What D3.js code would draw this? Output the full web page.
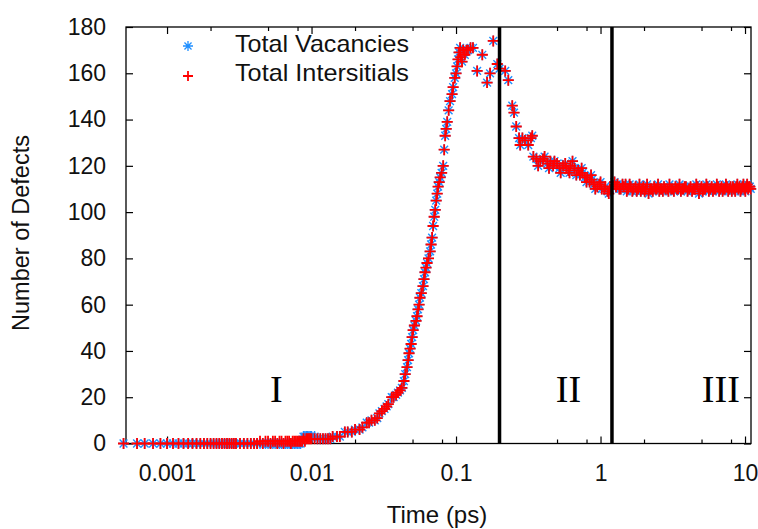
<!DOCTYPE html>
<html>
<head>
<meta charset="utf-8">
<script src="https://cdn.jsdelivr.net/npm/d3@7"></script>
<style>
body { margin: 0; background: #fff; }
text { font-family: "Liberation Sans", Arial, sans-serif; }
</style>
</head>
<body>
<script>
// time (ps) of each sample
var times = [
  0.0005, 0.00062, 0.0007, 0.0008, 0.0009, 0.001, 0.0011, 0.0012, 0.0013, 0.0014, 0.0015, 0.0016, 0.0017, 0.0018, 0.0019, 0.002,
  0.0021, 0.0022, 0.0023, 0.0024, 0.0025, 0.0026, 0.0027, 0.0028, 0.0029, 0.003, 0.0032, 0.0034, 0.0036, 0.0038, 0.004, 0.0042,
  0.0044, 0.0046, 0.0048, 0.005, 0.0052, 0.0054, 0.0056, 0.0058, 0.006, 0.0062, 0.0064, 0.0066, 0.0068, 0.007,
  0.0072, 0.0074, 0.0076, 0.0078, 0.008, 0.0082, 0.0084, 0.0086, 0.0088, 0.009, 0.0092, 0.0094, 0.0096, 0.0098,
  0.01, 0.0105, 0.011, 0.0115, 0.012, 0.0125, 0.013, 0.0135, 0.014, 0.015, 0.0157, 0.017, 0.0178, 0.019, 0.02, 0.0215,
  0.0225, 0.0241, 0.025, 0.026, 0.0274, 0.0285, 0.0295, 0.0307, 0.032, 0.0331, 0.034, 0.0359, 0.037, 0.0385, 0.0396,
  0.041, 0.0422, 0.0436, 0.0445, 0.0458, 0.0466, 0.0473, 0.0481, 0.0489, 0.0497, 0.0505, 0.0515, 0.0529, 0.0537, 0.0546,
  0.0555, 0.0563, 0.0575, 0.0591, 0.06, 0.061, 0.062, 0.063, 0.0645, 0.0662, 0.0672, 0.0683, 0.0694, 0.0706, 0.0718,
  0.0729, 0.0741, 0.0752, 0.0765, 0.0777, 0.0795, 0.0815, 0.0828, 0.0841, 0.0855, 0.0869, 0.0889, 0.0909, 0.0939,
  0.0955, 0.098, 0.1, 0.1017, 0.1033, 0.105, 0.1067, 0.108, 0.11, 0.112, 0.115, 0.118, 0.121, 0.126, 0.131,
  0.14, 0.152, 0.164, 0.172, 0.181, 0.193, 0.2, 0.219, 0.23, 0.245, 0.252, 0.261, 0.273, 0.278, 0.288, 0.3, 0.316, 0.33, 0.337, 0.343,
  0.36, 0.37, 0.383, 0.4, 0.41, 0.428, 0.44, 0.45, 0.47, 0.48, 0.5,
  0.52, 0.53, 0.55, 0.57, 0.58, 0.6, 0.61, 0.62, 0.64, 0.66, 0.68,
  0.7, 0.72, 0.74, 0.75, 0.78, 0.8, 0.81, 0.84, 0.86, 0.87, 0.9,
  0.92, 0.95, 0.98, 1.0, 1.02, 1.06, 1.08, 1.12, 1.14, 1.16, 1.2,
  1.25, 1.28, 1.31, 1.35, 1.38, 1.42, 1.45, 1.49, 1.52, 1.55, 1.59, 1.62,
  1.66, 1.69, 1.75, 1.78, 1.82, 1.86, 1.9, 1.94, 1.98, 2.02, 2.06, 2.1,
  2.15, 2.2, 2.25, 2.3, 2.35, 2.4, 2.45, 2.5, 2.55, 2.6, 2.65, 2.7,
  2.75, 2.82, 2.9, 2.95, 3.0, 3.08, 3.15, 3.22, 3.3, 3.38, 3.45, 3.52,
  3.6, 3.68, 3.75, 3.82, 3.9, 4.0, 4.1, 4.2, 4.3, 4.4, 4.5, 4.6,
  4.7, 4.8, 4.9, 5.0, 5.1, 5.2, 5.3, 5.4, 5.5, 5.62, 5.75, 5.88,
  6.0, 6.12, 6.25, 6.38, 6.5, 6.62, 6.75, 6.88, 7.0, 7.12, 7.25, 7.38,
  7.5, 7.65, 7.8, 7.95, 8.1, 8.25, 8.4, 8.55, 8.7, 8.85, 9.0, 9.15,
  9.3, 9.45, 9.6, 9.75, 9.9, 10.05, 10.2, 10.35, 10.5, 10.65, 10.8, 10.95]

var vacancies = [
  0, 0, 0, 0, 0, 0, 0, 0, 0, 0, 0, 0, 0, 0, 0, 0,
  0, 0, 0, 0, 0, 0, 0, 0, 0, 0, 0, 0, 0, 0, 0, 0,
  0, 0, 0, 0, 0, 0, 0, 0, 0, 0, 0, 0, 0, 0,
  0, 0, 0, 0, 0, 0, 0, 1, 3, 3, 3, 3, 3, 3,
  3, 3, 2, 2, 2, 2, 2, 2, 3, 3, 3, 5, 5, 5, 6, 6,
  7, 9, 9, 10, 10, 11, 13, 14, 15, 16, 17, 20, 20, 21, 22,
  23, 24, 27, 30, 33, 36, 39, 41, 43, 46, 49, 51, 53, 55, 58,
  60, 63, 65, 68, 71, 74, 76, 78, 80, 83, 86, 89, 94, 98, 101,
  105, 108, 111, 113, 115, 117, 120, 127, 133, 136, 139, 144, 148, 151,
  154, 158, 160, 163, 166, 169, 171, 167, 165, 170, 168, 170, 170, 171, 171,
  161, 168, 156, 160, 174, 164, 162, 161, 157, 146, 143, 137, 132, 129, 132, 131, 129, 132, 133, 124,
  123, 120, 122, 123, 124, 121, 119, 122, 120, 122, 121,
  119, 117, 120, 121, 119, 118, 117, 120, 122, 119, 116,
  118, 116, 119, 117, 115, 113, 115, 113, 116, 114, 112,
  110, 111, 112, 113, 110, 110, 111, 109, 108, 110, 111,
  113, 111, 112, 110, 110, 112, 111, 112, 109, 110, 112, 111,
  109, 110, 111, 109, 110, 112, 109, 110, 111, 109, 110, 112,
  108, 110, 110, 109, 111, 110, 110, 112, 109, 110, 110, 109,
  111, 110, 110, 109, 112, 110, 110, 109, 111, 110, 110, 112,
  109, 110, 110, 111, 111, 109, 110, 111, 109, 110, 110, 112,
  111, 108, 110, 111, 109, 110, 110, 112, 111, 109, 110, 111,
  109, 110, 110, 112, 111, 109, 110, 111, 109, 110, 110, 112,
  111, 109, 110, 111, 109, 111, 110, 109, 111, 112, 110, 111,
  109, 110, 111, 112, 110, 109, 111, 112, 110, 111, 111, 110]

var interstitials = [
  0, 0, 0, 0, 0, 0, 0, 0, 0, 0, 0, 0, 0, 0, 0, 0,
  0, 0, 0, 0, 0, 0, 0, 0, 0, 0, 0, 0, 0, 0, 0, 0,
  1, 0, 1, 1, 0, 1, 1, 0, 1, 1, 0, 1, 1, 1,
  0, 1, 1, 1, 1, 1, 1, 1, 2, 1, 2, 2, 2, 2,
  2, 2, 2, 2, 2, 2, 2, 2, 3, 3, 3, 5, 5, 5, 6, 6,
  7, 9, 9, 10, 10, 11, 13, 14, 15, 16, 17, 20, 20, 21, 22,
  23, 24, 27, 30, 33, 36, 39, 41, 43, 46, 49, 51, 53, 55, 58,
  60, 63, 65, 68, 71, 74, 76, 78, 80, 83, 86, 89, 94, 98, 101,
  105, 108, 111, 113, 115, 117, 120, 127, 133, 136, 139, 144, 148, 151,
  154, 158, 160, 163, 166, 169, 171, 167, 165, 170, 168, 170, 170, 171, 171,
  161, 168, 156, 160, 174, 164, 162, 161, 157, 146, 143, 137, 132, 129, 132, 131, 129, 132, 133, 124,
  123, 120, 122, 123, 124, 121, 119, 122, 120, 122, 121,
  119, 117, 120, 121, 119, 118, 117, 120, 122, 119, 116,
  118, 116, 119, 117, 115, 113, 115, 113, 116, 114, 112,
  110, 111, 112, 113, 110, 110, 111, 109, 108, 110, 111,
  113, 111, 112, 110, 110, 112, 111, 112, 109, 110, 112, 111,
  109, 110, 111, 109, 110, 112, 109, 110, 111, 109, 110, 112,
  108, 110, 110, 109, 111, 110, 110, 112, 109, 110, 110, 109,
  111, 110, 110, 109, 112, 110, 110, 109, 111, 110, 110, 112,
  109, 110, 110, 111, 111, 109, 110, 111, 109, 110, 110, 112,
  111, 108, 110, 111, 109, 110, 110, 112, 111, 109, 110, 111,
  109, 110, 110, 112, 111, 109, 110, 111, 109, 110, 110, 112,
  111, 109, 110, 111, 109, 111, 110, 109, 111, 112, 110, 111,
  109, 110, 111, 112, 110, 109, 111, 112, 110, 111, 111, 110]

var xMajor = [0.001, 0.01, 0.1, 1, 10]
var xLabels = ["0.001", "0.01", "0.1", "1", "10"]
var xMinor = [0.002, 0.005, 0.008, 0.02, 0.05, 0.08, 0.2, 0.5, 0.8, 2, 5, 8]
var yTicks = [0, 20, 40, 60, 80, 100, 120, 140, 160, 180]
var phaseLines = [0.2, 1.2]
var phaseNames = ["I", "II", "III"]
var phaseAt = [0.0057, 0.6, 6.8]
var legendNames = ["Total Vacancies", "Total Intersitials"]

var screen = {width: 758, height: 529}
var box = {left: 126, right: 751, top: 27, bottom: 443.5}

var svg = d3.select("body")
            .append("svg")
            .attr("width", screen.width)
            .attr("height", screen.height)

var x = d3.scaleLog().domain([0.00052, 11]).range([box.left, box.right])
var y = d3.scaleLinear().domain([0, 180]).range([box.bottom, box.top])

var vacData = times.map(function(t, i) { return {t: t, v: vacancies[i]} })
var intData = times.map(function(t, i) { return {t: t, v: interstitials[i]} })

var starPath = function(r) {
  var d = r * 0.7071
  return "M" + (-r) + ",0L" + r + ",0M0," + (-r) + "L0," + r +
         "M" + (-d) + "," + (-d) + "L" + d + "," + d + "M" + (-d) + "," + d + "L" + d + "," + (-d)
}
var plusPath = function(r) {
  return "M" + (-r) + ",0L" + r + ",0M0," + (-r) + "L0," + r
}

var blue = "#1f8fff"
var red = "#ff0000"

// axes (gnuplot style ticks pointing inward)
svg.append("g")
   .attr("transform", "translate(0," + box.bottom + ")")
   .call(d3.axisBottom(x).tickValues(xMajor).tickSize(-7).tickPadding(21)
         .tickFormat(function(d, i) { return xLabels[i] }))
svg.append("g")
   .attr("transform", "translate(0," + box.bottom + ")")
   .call(d3.axisBottom(x).tickValues(xMinor).tickSize(-4).tickFormat(""))
svg.append("g")
   .attr("transform", "translate(0," + box.top + ")")
   .call(d3.axisTop(x).tickValues(xMajor).tickSize(-7).tickFormat(""))
svg.append("g")
   .attr("transform", "translate(0," + box.top + ")")
   .call(d3.axisTop(x).tickValues(xMinor).tickSize(-4).tickFormat(""))
svg.append("g")
   .attr("transform", "translate(" + box.left + ",0)")
   .call(d3.axisLeft(y).tickValues(yTicks).tickSize(-7).tickPadding(20))
svg.append("g")
   .attr("transform", "translate(" + box.right + ",0)")
   .call(d3.axisRight(y).tickValues(yTicks).tickSize(-7).tickFormat(""))

svg.selectAll(".domain").remove()
svg.selectAll(".tick line").attr("stroke", "#000").attr("stroke-width", 1.2)
svg.selectAll(".tick text").attr("font-size", 23).attr("fill", "#111")
   .attr("font-family", "Liberation Sans, Arial, sans-serif")

svg.append("rect")
   .attr("x", box.left).attr("y", box.top)
   .attr("width", box.right - box.left).attr("height", box.bottom - box.top)
   .attr("fill", "none").attr("stroke", "#000").attr("stroke-width", 1.3)

// data markers
svg.append("g").selectAll("path")
   .data(vacData)
   .enter()
   .append("path")
   .attr("transform", function(d) { return "translate(" + x(d.t) + "," + y(d.v) + ")" })
   .attr("d", starPath(5.5))
   .attr("stroke", blue)
   .attr("stroke-width", 1.4)
   .attr("fill", "none")

svg.append("g").selectAll("path")
   .data(intData)
   .enter()
   .append("path")
   .attr("transform", function(d) { return "translate(" + x(d.t) + "," + y(d.v) + ")" })
   .attr("d", plusPath(5.5))
   .attr("stroke", red)
   .attr("stroke-width", 1.8)
   .attr("fill", "none")

// phase boundaries
svg.selectAll(".phase")
   .data(phaseLines)
   .enter()
   .append("line")
   .attr("class", "phase")
   .attr("x1", function(d) { return x(d) })
   .attr("x2", function(d) { return x(d) })
   .attr("y1", box.top)
   .attr("y2", box.bottom)
   .attr("stroke", "#000")
   .attr("stroke-width", 3.5)

svg.selectAll(".roman")
   .data(phaseNames)
   .enter()
   .append("text")
   .attr("class", "roman")
   .attr("x", function(d, i) { return x(phaseAt[i]) })
   .attr("y", 402)
   .attr("text-anchor", "middle")
   .style("font-family", "'Liberation Serif', 'Times New Roman', serif")
   .attr("font-size", 38)
   .text(function(d) { return d })

// legend
var legend = svg.append("g").attr("class", "legend")
legend.append("path")
   .attr("transform", "translate(188,46)")
   .attr("d", starPath(5))
   .attr("stroke", blue).attr("stroke-width", 1.3).attr("fill", "none")
legend.append("path")
   .attr("transform", "translate(188,76)")
   .attr("d", plusPath(5))
   .attr("stroke", red).attr("stroke-width", 1.8).attr("fill", "none")
legend.selectAll("text")
   .data(legendNames)
   .enter()
   .append("text")
   .attr("x", 235)
   .attr("y", function(d, i) { return 52 + i * 29 })
   .attr("font-size", 24)
   .attr("textLength", 174)
   .attr("lengthAdjust", "spacingAndGlyphs")
   .attr("fill", "#111")
   .text(function(d) { return d })

// axis titles
svg.append("text")
   .attr("x", 437)
   .attr("y", 523)
   .attr("text-anchor", "middle")
   .attr("font-size", 24)
   .attr("fill", "#111")
   .text("Time (ps)")

svg.append("text")
   .attr("transform", "translate(29,233) rotate(-90)")
   .attr("text-anchor", "middle")
   .attr("font-size", 23.5)
   .attr("fill", "#111")
   .text("Number of Defects")
</script>
</body>
</html>
